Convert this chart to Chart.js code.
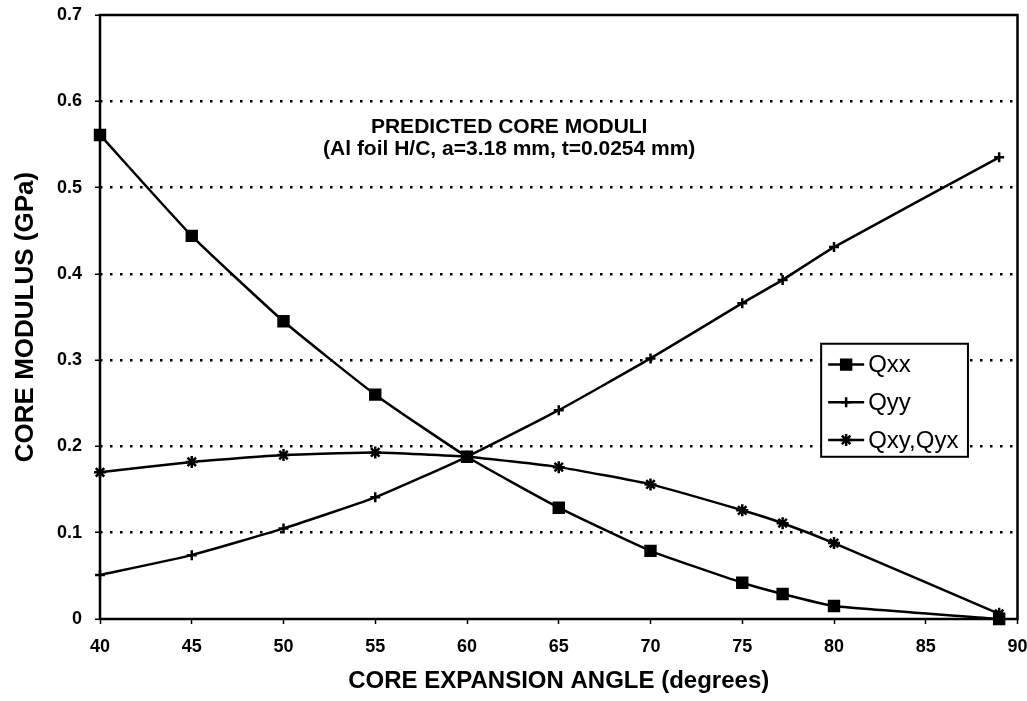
<!DOCTYPE html>
<html>
<head>
<meta charset="utf-8">
<script src="https://cdn.jsdelivr.net/npm/chart.js@4.4.1/dist/chart.umd.min.js"></script>
<style>
html,body{margin:0;padding:0;background:#fff;}
#wrap{width:1027px;height:701px;position:relative;}
canvas{display:block;}
</style>
</head>
<body>
<div id="wrap"><canvas id="c" width="1027" height="701"></canvas></div>
<script>
// ---- data ----
const angles = [40, 45, 50, 55, 60, 65, 70, 75, 77.2, 80, 89];
const qxx    = [0.561, 0.444, 0.345, 0.260, 0.188, 0.129, 0.079, 0.042, 0.029, 0.015, 0.000];
const qyy    = [0.051, 0.074, 0.105, 0.141, 0.188, 0.242, 0.302, 0.366, 0.393, 0.431, 0.535];
const qxy    = [0.170, 0.182, 0.190, 0.193, 0.188, 0.176, 0.156, 0.126, 0.111, 0.088, 0.006];
const seriesNames = ['Qxx', 'Qyy', 'Qxy,Qyx'];
const xTickValues = [40, 45, 50, 55, 60, 65, 70, 75, 80, 85, 90];
const yTickValues = [0, 0.1, 0.2, 0.3, 0.4, 0.5, 0.6, 0.7];
const yTickLabels = ['0', '0.1', '0.2', '0.3', '0.4', '0.5', '0.6', '0.7'];
const titleLines = ['PREDICTED CORE MODULI', '(Al foil H/C, a=3.18 mm, t=0.0254 mm)'];
const xAxisTitle = 'CORE EXPANSION ANGLE (degrees)';
const yAxisTitle = 'CORE MODULUS (GPa)';

const FONT = "'Liberation Sans', Arial, Helvetica, sans-serif";

function pts(ys) { return angles.map((x, i) => ({x: x, y: ys[i]})); }

const styles = [
  {pointStyle: 'rect',  pointRadius: 7},
  {pointStyle: 'cross', pointRadius: 5},
  {pointStyle: 'star',  pointRadius: 6}
];
const seriesValues = [qxx, qyy, qxy];

const datasets = seriesValues.map((vals, i) => ({
  label: seriesNames[i],
  data: pts(vals),
  showLine: true,
  borderColor: '#000',
  backgroundColor: '#000',
  borderWidth: 2.5,
  tension: 0.15,
  pointStyle: styles[i].pointStyle,
  pointRadius: styles[i].pointRadius,
  pointBorderWidth: 2.5,
  pointBackgroundColor: '#000',
  pointBorderColor: '#000',
  clip: false
}));

const framePlugin = {
  id: 'frame',
  beforeDatasetsDraw(chart) {
    const {ctx, chartArea: a} = chart;
    ctx.save();
    ctx.strokeStyle = '#000';
    ctx.lineWidth = 2.5;
    ctx.setLineDash([]);
    ctx.strokeRect(a.left, a.top, a.right - a.left, a.bottom - a.top);
    ctx.restore();
  },
  afterDatasetsDraw(chart) {
    const {ctx} = chart;
    const xs = chart.scales.x, ys = chart.scales.y;
    ctx.save();
    // inner title
    ctx.fillStyle = '#000';
    ctx.textAlign = 'center';
    ctx.textBaseline = 'middle';
    ctx.font = 'bold 21px ' + FONT;
    const cx = xs.getPixelForValue(62.3);
    ctx.fillText(titleLines[0], cx, ys.getPixelForValue(0.570));
    ctx.fillText(titleLines[1], cx, ys.getPixelForValue(0.545));

    // legend box
    const L = xs.getPixelForValue(79.3), R = xs.getPixelForValue(87.3);
    const T = ys.getPixelForValue(0.319), B = ys.getPixelForValue(0.188);
    ctx.fillStyle = '#fff';
    ctx.fillRect(L, T, R - L, B - T);
    ctx.strokeStyle = '#000';
    ctx.lineWidth = 2;
    ctx.strokeRect(L, T, R - L, B - T);
    const rowH = (B - T) / 3;
    chart.data.datasets.forEach((ds, i) => {
      const y = T + rowH * (i + 0.5) + 2;
      const x0 = L + 7, x1 = L + 43;
      ctx.strokeStyle = '#000';
      ctx.lineWidth = 2.5;
      ctx.beginPath(); ctx.moveTo(x0, y); ctx.lineTo(x1, y); ctx.stroke();
      ctx.fillStyle = '#000';
      Chart.helpers.drawPoint(ctx, {pointStyle: ds.pointStyle, radius: ds.pointRadius, rotation: 0, borderWidth: 2.5}, (x0 + x1) / 2, y);
      ctx.fillStyle = '#000';
      ctx.font = '24px ' + FONT;
      ctx.textAlign = 'left';
      ctx.textBaseline = 'middle';
      ctx.fillText(ds.label, x1 + 4, y + 1);
    });
    ctx.restore();
  }
};

new Chart(document.getElementById('c'), {
  type: 'scatter',
  data: {datasets: datasets},
  options: {
    responsive: false,
    devicePixelRatio: 1,
    animation: false,
    layout: {padding: {left: 0, right: 7, top: 15, bottom: 0}},
    plugins: {legend: {display: false}, tooltip: {enabled: false}, title: {display: false}},
    scales: {
      x: {
        type: 'linear', min: 40, max: 90,
        afterBuildTicks(s) { s.ticks = xTickValues.map(v => ({value: v})); },
        afterFit(s) { s.height = 82; s.paddingLeft = 0; s.paddingRight = 0; },
        grid: {drawOnChartArea: false, drawTicks: true, tickLength: 5, tickColor: '#000', tickWidth: 1.5, tickBorderDash: []},
        border: {display: false},
        ticks: {color: '#000', padding: 12, maxRotation: 0, autoSkip: false,
                font: {family: FONT, size: 18, weight: 'bold'},
                callback: v => String(v)},
        title: {display: true, text: xAxisTitle, color: '#000',
                font: {family: FONT, size: 24, weight: 'bold'}, padding: {top: 0, bottom: 5}}
      },
      y: {
        type: 'linear', min: 0, max: 0.7,
        afterBuildTicks(s) { s.ticks = yTickValues.map(v => ({value: v})); },
        afterFit(s) { s.width = 100; s.paddingTop = 0; s.paddingBottom = 0; },
        grid: {
          drawOnChartArea: true, drawTicks: true, tickLength: 5,
          color: c => (c.tick && (c.tick.value === 0 || c.tick.value === 0.7)) ? 'rgba(0,0,0,0)' : '#000',
          lineWidth: 2.5, tickColor: '#000', tickWidth: 1.5, tickBorderDash: []
        },
        border: {display: false, dash: [2.5, 7.5]},
        ticks: {color: '#000', padding: 13,
                font: {family: FONT, size: 18, weight: 'bold'},
                callback: (v, i) => yTickLabels[i]},
        title: {display: true, text: yAxisTitle, color: '#000',
                font: {family: FONT, size: 26, weight: 'bold'}, padding: {top: 10, bottom: 0}}
      }
    }
  },
  plugins: [framePlugin]
});
</script>
</body>
</html>
